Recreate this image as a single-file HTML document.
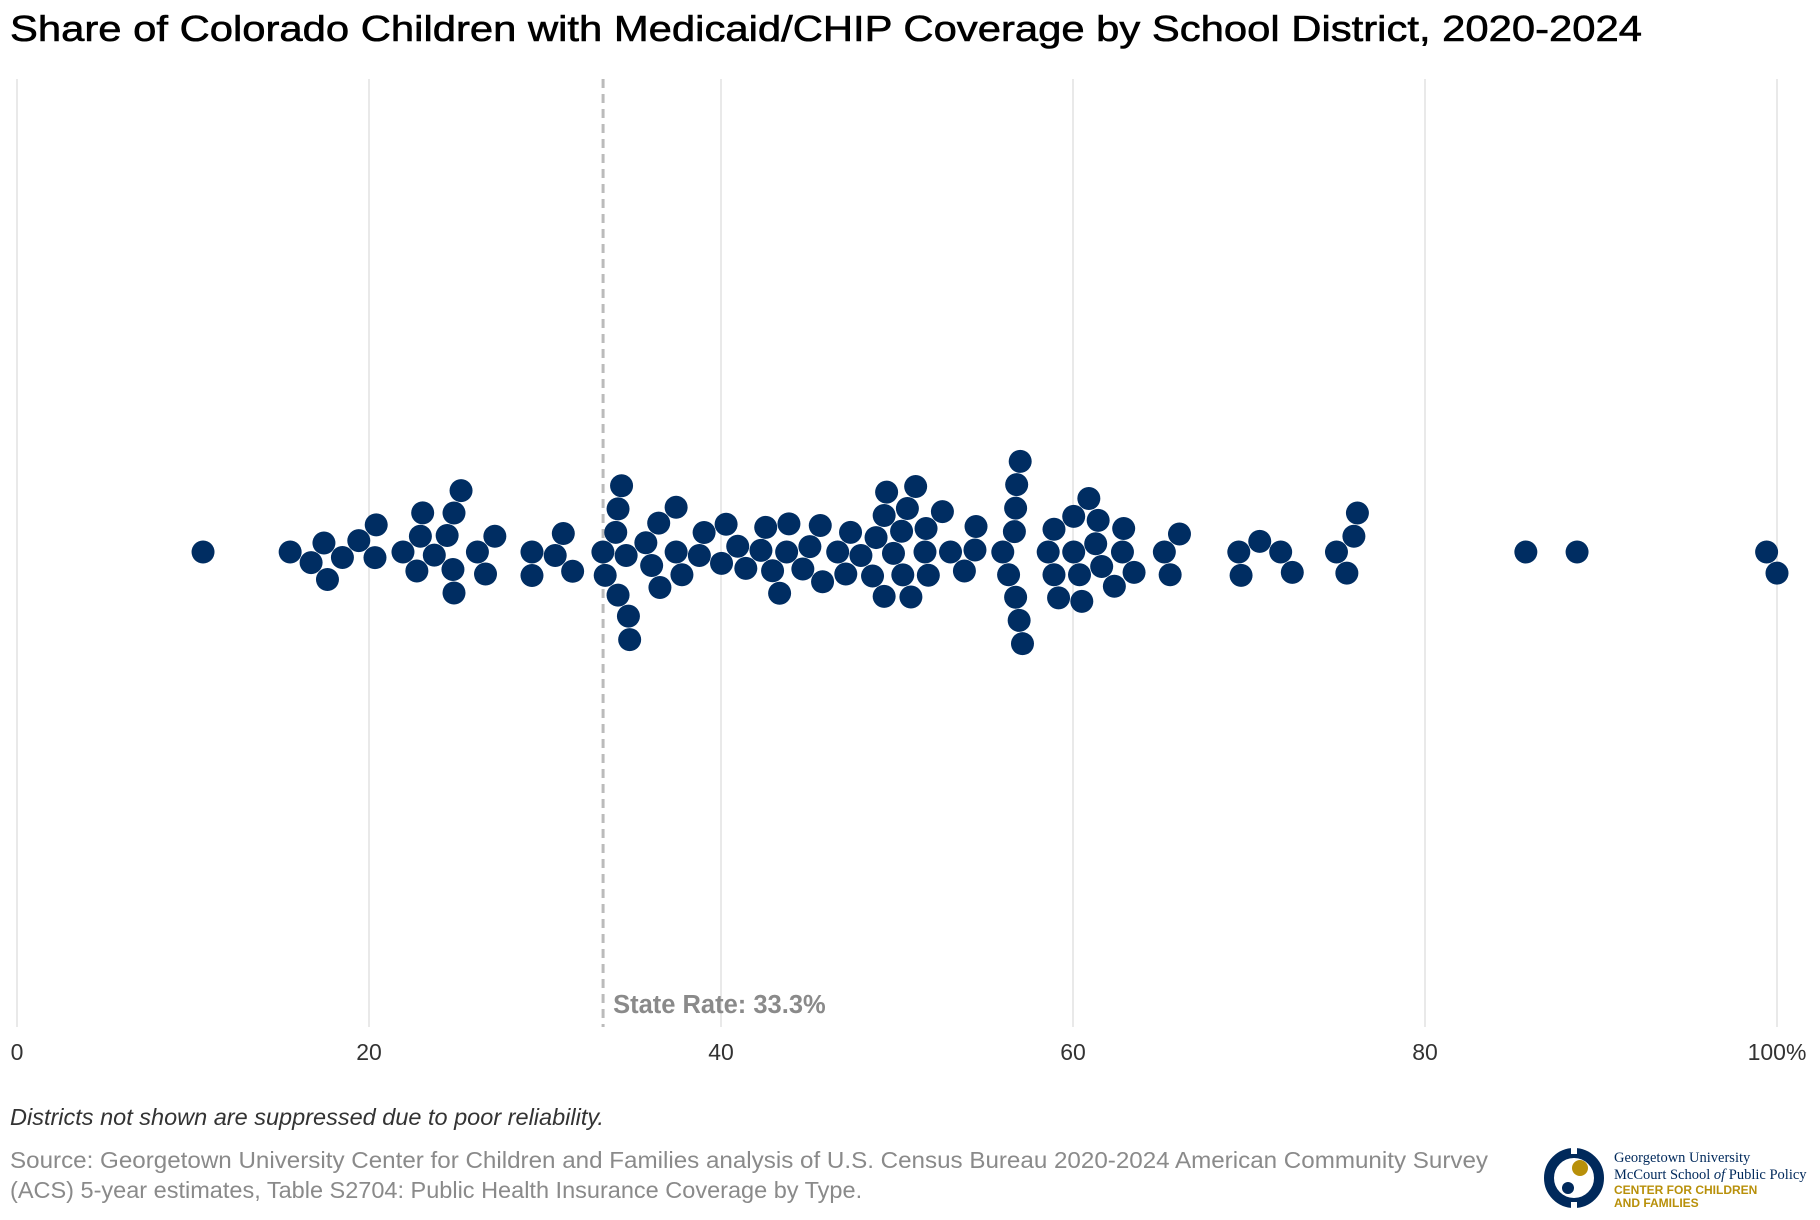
<!DOCTYPE html>
<html><head><meta charset="utf-8"><style>
html,body{margin:0;padding:0;background:#fff;}
svg{display:block;font-family:"Liberation Sans",Arial,sans-serif;}
</style></head><body>
<svg id="chart" width="1820" height="1220" viewBox="0 0 1820 1220">
<text x="10" y="41" font-size="36" fill="#000" stroke="#000" stroke-width="0.6" textLength="1632" lengthAdjust="spacingAndGlyphs">Share of Colorado Children with Medicaid/CHIP Coverage by School District, 2020-2024</text>
<g id="grid"></g>
<g id="xticks"></g>
<g id="ref"></g>
<g id="dots"></g>
<text x="10" y="1125" font-size="23.5" font-style="italic" fill="#333">Districts not shown are suppressed due to poor reliability.</text>
<text x="10" y="1168" font-size="23.5" fill="#8a8a8a" textLength="1478" lengthAdjust="spacingAndGlyphs">Source: Georgetown University Center for Children and Families analysis of U.S. Census Bureau 2020-2024 American Community Survey</text>
<text x="10" y="1198" font-size="23.5" fill="#8a8a8a">(ACS) 5-year estimates, Table S2704: Public Health Insurance Coverage by Type.</text>
<g>
  <circle cx="1574" cy="1178" r="25" fill="none" stroke="#00295b" stroke-width="10"/>
  <rect x="1571" y="1144" width="6" height="10" fill="#fff"/>
  <rect x="1571" y="1202" width="6" height="10" fill="#fff"/>
  <circle cx="1580" cy="1168" r="8" fill="#b8900a"/>
  <circle cx="1568" cy="1188" r="6" fill="#00295b"/>
  <text x="1614" y="1162" font-family="Liberation Serif,serif" font-size="14.5" fill="#00295b">Georgetown University</text>
  <text x="1614" y="1179" font-family="Liberation Serif,serif" font-size="14.5" fill="#00295b">McCourt School <tspan font-style="italic">of</tspan> Public Policy</text>
  <text x="1614" y="1194" font-size="12" font-weight="bold" fill="#b8900a">CENTER FOR CHILDREN</text>
  <text x="1614" y="1207" font-size="12" font-weight="bold" fill="#b8900a">AND FAMILIES</text>
</g>
</svg>
<script>
const tickValues = [0, 20, 40, 60, 80, 100];
const tickLabels = ["0", "20", "40", "60", "80", "100%"];
const stateRate = 33.3;
const districtValues = [
10.57,15.52,16.71,18.49,19.42,20.34,21.93,23.71,26.16,27.15,29.26,30.58,31.57,33.29,35.73,37.45,38.77,40.03,40.95,42.27,44.65,45.64,46.63,47.95,49.80,50.79,52.58,53.83,56.01,58.59,60.04,61.29,62.35,63.47,65.19,69.42,70.61,71.80,74.97,85.73,88.64,99.41,
17.44,17.64,20.41,22.72,22.92,23.05,24.44,24.77,24.83,24.83,25.23,26.62,29.26,31.04,33.42,34.02,34.15,34.15,34.35,34.61,34.74,34.81,36.06,36.46,36.53,37.45,37.78,39.04,40.29,41.41,42.54,42.93,43.33,43.73,43.86,45.05,45.77,47.09,47.36,48.61,48.81,49.27,49.27,49.41,50.26,50.33,50.59,51.06,51.59,51.65,51.78,53.04,54.43,54.49,56.34,56.67,56.74,56.74,56.80,56.94,57.00,57.13,58.92,58.92,59.18,60.04,60.37,60.50,60.90,61.43,61.63,62.81,62.88,65.52,66.05,69.55,72.46,75.56,75.96,76.16,100.0
];
const NS='http://www.w3.org/2000/svg';
const X0=17, X1=1777, CY=552, R=11.5, TOP=79, BOT=1027;
function xScale(v){return X0+(X1-X0)*v/100;}
function mk(tag,attrs,parent){const e=document.createElementNS(NS,tag);for(const k in attrs)e.setAttribute(k,attrs[k]);parent.appendChild(e);return e;}
const grid=document.getElementById('grid'), xt=document.getElementById('xticks');
tickValues.forEach((t,i)=>{
  const l=mk('line',{x1:xScale(t),x2:xScale(t),y1:TOP,y2:BOT,stroke:'#e2e2e2','stroke-width':1.5},grid);
  
  
  const tx=mk('text',{x:xScale(t),y:1060,'font-size':23,fill:'#333','text-anchor':'middle'},xt);
  tx.textContent=tickLabels[i];
  
  
});
const ref=document.getElementById('ref');
const rl=mk('line',{x1:xScale(stateRate),x2:xScale(stateRate),y1:TOP,y2:BOT,stroke:'#bbb','stroke-width':3,'stroke-dasharray':'9,6'},ref);


const rt=mk('text',{x:xScale(stateRate)+10,y:1013,'font-size':25.5,'font-weight':'bold',fill:'#8a8a8a'},ref);
rt.textContent='State Rate: '+stateRate+'%';


const sorted=districtValues.map((v,i)=>({v,i})).sort((a,b)=>a.v-b.v);
const placed=[]; const D=2*R+0.5;
sorted.forEach(p=>{
  const x=xScale(p.v);
  const cands=[0];
  placed.forEach(q=>{const dx=x-q.x; if(Math.abs(dx)<D){const dy=Math.sqrt(D*D-dx*dx);cands.push(q.y+dy,q.y-dy);}});
  cands.sort((a,b)=>Math.abs(a)-Math.abs(b));
  let y=0;
  for(const c of cands){ if(placed.every(q=>(q.x-x)**2+(q.y-c)**2>=D*D-0.01)){y=c;break;} }
  placed.push({x,y,v:p.v});
});
const dots=document.getElementById('dots');
placed.forEach(p=>{
  const c=mk('circle',{cx:p.x,cy:CY+p.y,r:R,fill:'#002d62'},dots);
  
  
});
</script>
</body></html>
